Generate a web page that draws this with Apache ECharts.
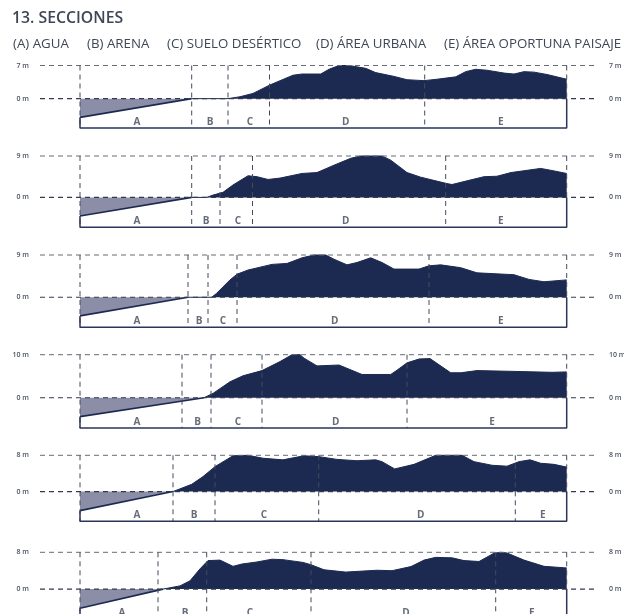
<!DOCTYPE html>
<html><head><meta charset="utf-8">
<style>html,body{margin:0;padding:0;background:#fff}#c{width:624px;height:614px}</style>
<script src="https://cdn.jsdelivr.net/npm/echarts@6/dist/echarts.min.js"></script>
</head><body><div id="c"></div>
<script>
const chartTitle = '13. SECCIONES';
const legendLabels = ['(A) AGUA','(B) ARENA','(C) SUELO DESÉRTICO','(D) ÁREA URBANA','(E) ÁREA OPORTUNA PAISAJE'];
const sectionLetters = ['A','B','C','D','E'];
const topHeights = [7,9,9,10,8,8];
const bedDepths = [-3.95,-4.06,-3.97,-4.4,-4.2,-4.15];
const baseDepths = [-6.2,-6.5,-6.4,-7.05,-6.55,-6.5];
const sectionStart = 80, sectionEnd = 566.7;

const edges1 = [191.7,228,269.5,424.7];
const edges2 = [191.7,220,252.5,445.7];
const edges3 = [188,208,237,429];
const edges4 = [182,211,262,407];
const edges5 = [173,215,318.7,515.3];
const edges6 = [158,206.7,311,495.7];

const letterPos1 = [137,210,250,345.7,500.7];
const letterPos2 = [137,206,238,345.7,500.7];
const letterPos3 = [137,199,223,334.7,500.7];
const letterPos4 = [137,197.7,238,335.7,492];
const letterPos5 = [137,194,264,420.7,542.7];
const letterPos6 = [122,185,250,406,531.7];

const land1 = [[191.7,0],[228,0],[240,.4],[253,1.1],[270,2.9],[293,4.95],[302,5.2],[320.7,5.2],[329,6.2],[339,7],[349,7],[365.7,6.4],[375.7,5.5],[394,4.7],[407,4],[424,3.8],[437,4.1],[455.7,4.6],[465.7,5.7],[475.7,6.2],[487,6],[504,5.4],[514,5.2],[524,5.7],[534,5.6],[547,5.1],[566.7,4.1]];
const land2 = [[191.7,0],[206.7,0],[213,.5],[223,1.1],[233,2.7],[248,4.7],[257,4.5],[268,3.9],[280,4.2],[302,5.2],[317,5.4],[334,7],[350.7,8.5],[360.7,9],[382,9],[390.7,8.1],[407,5.4],[420.7,4.4],[447,3],[452,2.8],[467,3.6],[484,4.5],[497,4.6],[511,5.4],[540.7,6.3],[550.7,5.9],[566.7,5.2]];
const land3 = [[188,0],[211.7,0],[216.7,.85],[230,3.7],[237,4.9],[248,5.8],[258,6.3],[272,7],[287,7.2],[302,8.4],[314,9],[325.7,9],[334,8.1],[347,6.9],[357,7.4],[370.7,8.4],[382,7.4],[394,6],[419,6],[429,6.7],[440.7,6.9],[460.7,6.3],[477,5.2],[514,4.8],[529,3.8],[544,3.3],[566.7,3.7]];
const land4 = [[204,0],[213,1],[230,3.7],[243,5.1],[262,6.3],[280,8.4],[292,10],[300,10],[304,9.2],[317,7.4],[339,7.6],[362,5.4],[390.7,5.4],[397,6.4],[407,8.1],[419,9],[430,9.1],[450.7,5.8],[460.7,5.8],[477,6.3],[517,6.1],[552,5.9],[566.7,6]];
const land5 = [[173,0],[191.7,1.6],[203,3.3],[215,5.5],[233,7.9],[248,8],[263,7.35],[283,7],[304,7.9],[319,7.7],[337,7.1],[357,6.8],[375.7,7],[382,6.6],[394.7,5],[414,6],[435.7,8],[462,8],[474,6.6],[492,5.8],[507,5.6],[519,6.6],[530,7],[540.7,6.25],[554,6],[566.7,5.4]];
const land6 = [[163,0],[180,.7],[190,1.8],[200,4.4],[208,6.2],[220,6.3],[233,4.95],[242,5.45],[257,5.9],[272,6.5],[283,6.4],[303,5.8],[311,5.3],[324,4.2],[345.7,3.7],[377,4.1],[392,4],[411,4.9],[424,6.3],[435.7,6.9],[452,6.8],[464,6.2],[479,6],[494,7.8],[500.7,8],[507,7.85],[524,6.3],[544,4.95],[566.7,4.6]];

const lands = [land1,land2,land3,land4,land5,land6];
const edges = [edges1,edges2,edges3,edges4,edges5,edges6];
const letterPos = [letterPos1,letterPos2,letterPos3,letterPos4,letterPos5,letterPos6];

// layout (page pixels)
const gridTops = [65.5,156,255,354.7,455.3,552.3];
const gridBottoms = [128,227.3,327.3,428,521.3,619];
const legendX = [13,87,167,316,444];
const NAVY='#1c2a52', WATER='#8b8ea6', INK='#3f4756';
const FONT='"Open Sans", sans-serif';

const grids=[],xAxes=[],yAxes=[],series=[];
const dash = (c,w)=>({color:c,width:w,type:[5,4]});
lands.forEach((land,i)=>{
  const top=topHeights[i], base=baseDepths[i], bed=bedDepths[i];
  grids.push({left:40,width:557,top:gridTops[i],height:gridBottoms[i]-gridTops[i],outerBoundsMode:'none',containLabel:false});
  xAxes.push({gridIndex:i,type:'value',min:40,max:597,show:false});
  const yCommon={gridIndex:i,type:'value',min:base,max:top,splitLine:{show:false},axisLine:{show:false},axisTick:{show:false}};
  const lab={show:true,customValues:[0,top],formatter:v=>v+' m',color:'#4c5360',fontSize:7,fontWeight:600,fontFamily:FONT,margin:11,hideOverlap:false};
  yAxes.push({...yCommon,position:'left',axisLabel:{...lab}});
  yAxes.push({...yCommon,position:'right',axisLabel:{...lab,margin:12}});
  const ax={xAxisIndex:i,yAxisIndex:2*i,showSymbol:false,symbol:'none',animation:false,clip:false,silent:true};
  // water wedge
  series.push({...ax,type:'line',z:2,data:[[sectionStart,bed],land[0]],
    lineStyle:{color:NAVY,width:1.6},areaStyle:{color:WATER,opacity:1}});
  // land profile
  series.push({...ax,type:'line',z:3,data:land,lineStyle:{color:NAVY,width:1},areaStyle:{color:NAVY,opacity:1}});
  // reference levels
  series.push({...ax,type:'line',z:4,data:[[40,top],[597,top]],lineStyle:dash('#666b75',1)});
  series.push({...ax,type:'line',z:4,data:[[40,0],[597,0]],lineStyle:dash('#333a4d',1.1)});
  // section dividers
  [sectionStart,...edges[i],sectionEnd].forEach(x=>{
    series.push({...ax,type:'line',z:5,data:[[x,top],[x,x===sectionEnd?0:base]],lineStyle:{color:'#444a5a',width:1,type:[5,4]}});
  });
  // section frame
  series.push({...ax,type:'line',z:6,data:[[sectionStart,bed],[sectionStart,base],[sectionEnd,base],[sectionEnd,0]],lineStyle:{color:'#2a3658',width:1.5}});
  // section letters
  series.push({xAxisIndex:i,yAxisIndex:2*i,type:'scatter',z:7,symbolSize:0,animation:false,silent:true,clip:false,
    data:letterPos[i].map((x,k)=>({value:[x,base*0.795],name:sectionLetters[k]})),
    label:{show:true,position:'inside',formatter:p=>p.name,color:INK,fontSize:10,fontWeight:700,fontFamily:FONT}});
});
const graphic=[{type:'text',left:12,top:10,style:{text:chartTitle,fill:INK,font:'600 15.8px '+FONT}}];
legendLabels.forEach((t,k)=>graphic.push({type:'text',left:legendX[k],top:38,style:{text:t,fill:INK,font:'400 13.3px '+FONT}}));
const chart=echarts.init(document.getElementById('c'),null,{renderer:'canvas'});
chart.setOption({animation:false,backgroundColor:'#fff',grid:grids,xAxis:xAxes,yAxis:yAxes,series,graphic});
</script></body></html>
